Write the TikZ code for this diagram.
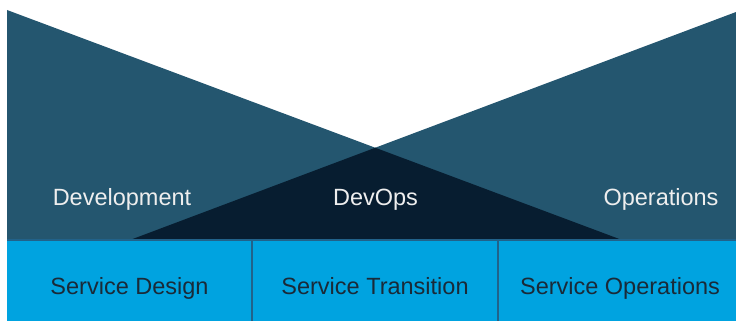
\documentclass[tikz,border=0pt]{standalone}
\usepackage{fontspec}
\setmainfont{Liberation Sans}
\definecolor{midblue}{HTML}{24566F}
\definecolor{darkblue}{HTML}{071D30}
\definecolor{boxblue}{HTML}{00A3E0}
\definecolor{lineblue}{HTML}{21628A}
\definecolor{boxtext}{HTML}{1A2A38}
\definecolor{lighttext}{HTML}{EEEEEE}
\begin{document}
\begin{tikzpicture}[x=1pt,y=-1pt,
  svcbox/.style={draw=none,fill=boxblue,rectangle,inner sep=0pt,anchor=north west,minimum height=81pt},
  toplabel/.style={text=lighttext,font=\fontsize{23.5}{26}\selectfont,anchor=base,inner sep=0pt},
  boxlabel/.style={text=boxtext,font=\fontsize{23.5}{26}\selectfont,anchor=base,inner sep=0pt},
  sep/.style={draw=lineblue,line width=2pt}]
\useasboundingbox (0,0) rectangle (736,321);
\coordinate (lt) at (7,10);
\coordinate (lb) at (7,240);
\coordinate (le) at (622,240);
\coordinate (rt) at (736,12);
\coordinate (rb) at (736,240);
\coordinate (re) at (130,240);
\coordinate (x) at (intersection of lt--le and rt--re);
\fill[midblue] (lt) -- (le) -- (lb) -- cycle;
\fill[midblue] (rt) -- (re) -- (rb) -- cycle;
\fill[darkblue] (x) -- (re) -- (le) -- cycle;
\node[svcbox,minimum width=245pt] (b1) at (7,240) {};
\node[svcbox,minimum width=246pt] (b2) at (252,240) {};
\node[svcbox,minimum width=238pt] (b3) at (498,240) {};
\draw[sep] (b1.north west) -- (b3.north east);
\draw[sep] (b2.north west) -- (b2.south west);
\draw[sep] (b3.north west) -- (b3.south west);
\node[toplabel] (dev) at (122,205) {Development};
\node[toplabel] (devops) at (375.5,205) {DevOps};
\node[toplabel] (ops) at (661,205) {Operations};
\node[boxlabel] (sd) at (129.5,294) {Service Design};
\node[boxlabel] (st) at (375,294) {Service Transition};
\node[boxlabel] (so) at (620,294) {Service Operations};
\end{tikzpicture}
\end{document}
